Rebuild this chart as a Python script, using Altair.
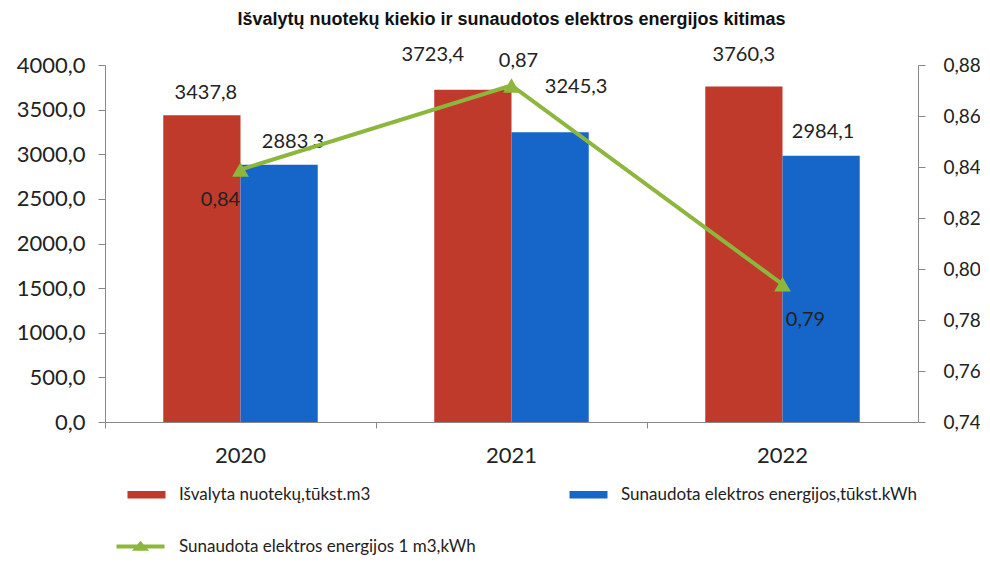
import altair as alt
import pandas as pd

years = ["2020", "2021", "2022"]
treated = [3437.8, 3723.4, 3760.3]
energy = [2883.3, 3245.3, 2984.1]
per_m3 = [0.839, 0.872, 0.794]

s_treated = "Išvalyta nuotekų,tūkst.m3"
s_energy = "Sunaudota elektros energijos,tūkst.kWh"
s_line = "Sunaudota elektros energijos 1 m3,kWh"
title = "Išvalytų nuotekų kiekio ir sunaudotos elektros energijos kitimas"

left_ticks = [0, 500, 1000, 1500, 2000, 2500, 3000, 3500, 4000]
right_ticks = [0.74, 0.76, 0.78, 0.80, 0.82, 0.84, 0.86, 0.88]

RED = "#BF3A2B"
BLUE = "#1666C9"
GREEN = "#8DB63C"
FONT = "Lato"

# label nudges (style only): (dx, dy)
bar_label_style = {
    ("2020", s_treated): (4, -22), ("2020", s_energy): (14, -23),
    ("2021", s_treated): (-40, -35), ("2021", s_energy): (26, -45),
    ("2022", s_treated): (0, -31), ("2022", s_energy): (2, -24),
}
line_label_style = {"2020": (-20, 30), "2021": (7, -24), "2022": (23, 36)}

bars_df = pd.DataFrame({
    "year": years * 2,
    "series": [s_treated] * 3 + [s_energy] * 3,
    "v": treated + energy,
})
line_df = pd.DataFrame({"year": years, "series": [s_line] * 3, "v": per_m3})

x_enc = alt.X("year:N", title=None,
              scale=alt.Scale(paddingInner=0.43, paddingOuter=0.215),
              axis=alt.Axis(labelAngle=0, labelFontSize=22, labelColor="#222",
                            labelPadding=17, tickSize=6, bandPosition=-0.376,
                            domainColor="#888", tickColor="#888"))

y_left = alt.Y("v:Q", title=None,
               scale=alt.Scale(domain=[0, 4000]),
               axis=alt.Axis(values=left_ticks, grid=False, labelFontSize=22,
                             labelColor="#222", labelPadding=13, tickSize=7,
                             domainColor="#888", tickColor="#888",
                             labelExpr="replace(format(datum.value, '.1f'), '.', ',')"))

bar_legend = alt.Legend(
    title=None, orient="none", legendX=33, legendY=421, direction="horizontal",
    columns=2, columnPadding=198, padding=0,
    symbolType="M-3.8,-0.74H3.8V0.74H-3.8Z", symbolSize=100, symbolStrokeWidth=0,
    labelOffset=24, labelFontSize=17, labelColor="#222", labelLimit=400)

bars = alt.Chart(bars_df).mark_bar().encode(
    x=x_enc,
    xOffset=alt.XOffset("series:N", sort=[s_treated, s_energy],
                        scale=alt.Scale(paddingInner=0, paddingOuter=0)),
    y=y_left,
    fill=alt.Fill("series:N", sort=[s_treated, s_energy],
                  scale=alt.Scale(domain=[s_treated, s_energy], range=[RED, BLUE]),
                  legend=bar_legend),
)

bar_label_layers = []
for (yr, sr), (dx, dy) in bar_label_style.items():
    bar_label_layers.append(
        alt.Chart(bars_df).transform_filter(
            f"datum.year == '{yr}' && datum.series == '{sr}'"
        ).transform_calculate(
            lbl="replace(format(datum.v, '.1f'), '.', ',')"
        ).mark_text(dx=dx, dy=dy, fontSize=20, color="#222", font=FONT).encode(
            x=alt.X("year:N"),
            xOffset=alt.XOffset("series:N", sort=[s_treated, s_energy]),
            y=alt.Y("v:Q"),
            text="lbl:N",
        )
    )

y_right = alt.Y("v:Q", title=None,
                scale=alt.Scale(domain=[0.74, 0.88]),
                axis=alt.Axis(orient="right", values=right_ticks, grid=False,
                              labelFontSize=19, labelColor="#222", labelPadding=18,
                              tickSize=7, domainColor="#888", tickColor="#888",
                              labelExpr="replace(format(datum.value, '.2f'), '.', ',')"))

line_legend = alt.Legend(
    title=None, orient="none", legendX=27, legendY=473, padding=0,
    symbolType="M-4.8,0H4.8M-0.85,0.45L0,-0.55L0.85,0.45Z", symbolSize=100,
    symbolStrokeWidth=4, symbolFillColor=GREEN,
    labelOffset=30, labelFontSize=17, labelColor="#222", labelLimit=400)

line = alt.Chart(line_df).mark_line(strokeWidth=4).encode(
    x=alt.X("year:N"),
    y=y_right,
    stroke=alt.Stroke("series:N", scale=alt.Scale(domain=[s_line], range=[GREEN]),
                      legend=line_legend),
)

points = alt.Chart(line_df).mark_point(shape="triangle-up", filled=True, size=280,
                                       color=GREEN, opacity=1).encode(
    x=alt.X("year:N"), y=alt.Y("v:Q"))

line_label_layers = []
for yr, (dx, dy) in line_label_style.items():
    line_label_layers.append(
        alt.Chart(line_df).transform_filter(
            f"datum.year == '{yr}'"
        ).transform_calculate(
            lbl="replace(format(datum.v, '.2f'), '.', ',')"
        ).mark_text(dx=dx, dy=dy, fontSize=20, color="#222", font=FONT).encode(
            x=alt.X("year:N"), y=alt.Y("v:Q"), text="lbl:N")
    )

left_layer = alt.layer(bars, *bar_label_layers)
right_layer = alt.layer(line, points, *line_label_layers)

chart = alt.layer(left_layer, right_layer).resolve_scale(
    y="independent"
).properties(
    width=813, height=357,
    title=alt.TitleParams(title, fontSize=18, font="Liberation Sans",
                          fontWeight="bold", color="#111", anchor="middle", offset=16),
    autosize=alt.AutoSizeParams(type="none"),
    padding={"left": 97, "top": 57, "right": 62, "bottom": 140},
).configure(font=FONT).configure_view(stroke=None)

chart.save("out.html", embed_options={"renderer": "svg", "actions": False})
